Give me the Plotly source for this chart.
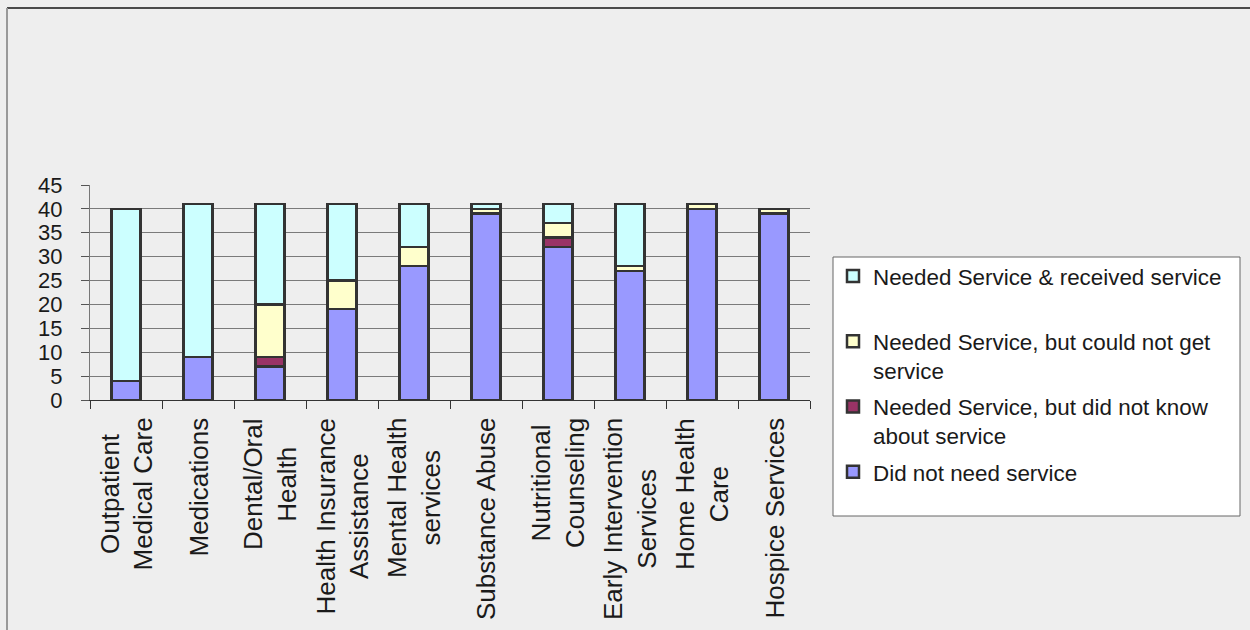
import plotly.graph_objects as go

# Service categories (x axis)
categories = [
    "Outpatient<br>Medical Care",
    "Medications",
    "Dental/Oral<br>Health",
    "Health Insurance<br>Assistance",
    "Mental Health<br>services",
    "Substance Abuse",
    "Nutritional<br>Counseling",
    "Early Intervention<br>Services",
    "Home Health<br>Care",
    "Hospice Services",
]

# Counts per response, stacked bottom to top
did_not_need = [4, 9, 7, 19, 28, 39, 32, 27, 40, 39]
did_not_know = [0, 0, 2, 0, 0, 0, 2, 0, 0, 0]
could_not_get = [0, 0, 11, 6, 4, 1, 3, 1, 1, 1]
received = [36, 32, 21, 16, 9, 1, 4, 13, 0, 0]

series_names = [
    "Did not need service<br> ",
    "Needed Service, but did not know<br>about service",
    "Needed Service, but could not get<br>service",
    "Needed Service & received service<br> ",
]
series_values = [did_not_need, did_not_know, could_not_get, received]
series_colors = ["#9999FF", "#993366", "#FFFFCC", "#CCFFFF"]

y_ticks = [0, 5, 10, 15, 20, 25, 30, 35, 40, 45]

FONT = "Liberation Sans, Arial, sans-serif"
TXT = "#1a1a1a"
W, H = 1250, 630
ML, MR, MT, MB = 90, 440, 185, 230
PW, PH = W - ML - MR, H - MT - MB

fig = go.Figure()
n = len(series_names)
for i, (name, vals, col) in enumerate(zip(series_names, series_values, series_colors)):
    fig.add_trace(go.Bar(
        x=categories,
        y=vals,
        name=name,
        legendgroup=str(i),
        legendrank=n - i,
        marker=dict(color=col, line=dict(color="#333333", width=2.5)),
    ))

def px_x(p):
    return (p - ML) / PW

def px_y(p):
    return (H - MB - p) / PH

# Category labels, rotated, lines centred on each other
for c in categories:
    fig.add_annotation(
        x=c, xref="x", y=0, yref="paper",
        text=c, textangle=-90, showarrow=False,
        xanchor="center", yanchor="top", yshift=-16, align="center",
        font=dict(family=FONT, size=26, color=TXT),
    )

# Outer frame edges (top and left) of the chart object
fig.add_shape(type="line", xref="paper", yref="paper",
              x0=px_x(7), x1=px_x(1300), y0=px_y(8), y1=px_y(8),
              line=dict(color="#4a4a4a", width=2))
fig.add_shape(type="line", xref="paper", yref="paper",
              x0=px_x(7), x1=px_x(7), y0=px_y(8), y1=px_y(700),
              line=dict(color="#999999", width=2))

# Legend panel
fig.add_shape(type="rect", xref="paper", yref="paper", layer="below",
              x0=px_x(833), x1=px_x(1240), y0=px_y(516), y1=px_y(257),
              fillcolor="#FFFFFF", line=dict(color="#666666", width=1))

fig.update_layout(
    width=W, height=H,
    margin=dict(l=ML, r=MR, t=MT, b=MB, pad=0),
    barmode="stack",
    bargap=0.6,
    paper_bgcolor="#EEEEEE",
    plot_bgcolor="#EEEEEE",
    font=dict(family=FONT, size=20, color=TXT),
    showlegend=True,
    legend=dict(
        x=px_x(833), y=px_y(255), xanchor="left", yanchor="top",
        bgcolor="rgba(0,0,0,0)", borderwidth=0,
        traceorder="grouped", tracegroupgap=4,
        valign="top", maxheight=600,
        font=dict(family=FONT, size=22.4, color=TXT),
    ),
    xaxis=dict(
        type="category",
        tickson="boundaries",
        ticks="outside", ticklen=8, tickcolor="#333333", tickwidth=1,
        showticklabels=False,
        showline=True, linecolor="#333333", linewidth=1,
        showgrid=False,
    ),
    yaxis=dict(
        range=[0, 45],
        tickvals=y_ticks,
        ticks="outside", ticklen=8, tickcolor="#555555",
        ticklabelstandoff=14,
        showline=True, linecolor="#777777", linewidth=1,
        showgrid=True, gridcolor="#7a7a7a", gridwidth=1,
        zeroline=False,
        tickfont=dict(family=FONT, size=22, color=TXT),
    ),
)

fig.write_html("out.html")
